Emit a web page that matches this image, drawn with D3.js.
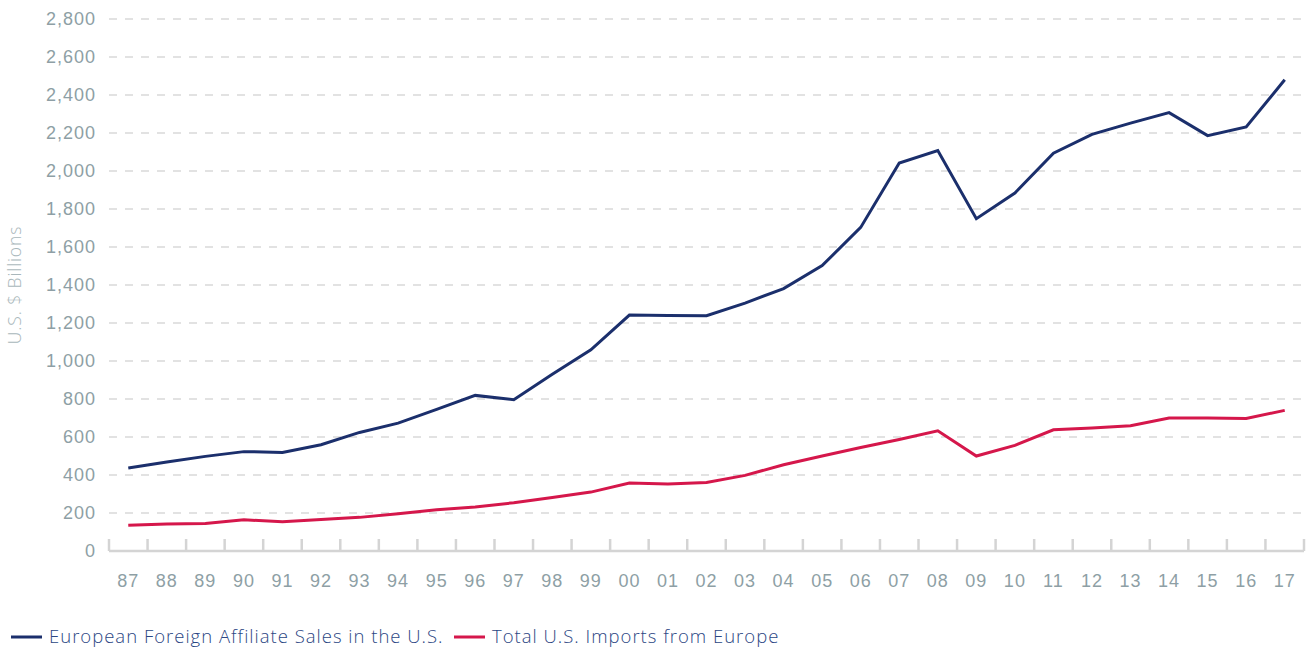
<!DOCTYPE html>
<html>
<head>
<meta charset="utf-8">
<script src="https://cdn.jsdelivr.net/npm/d3@7"></script>
<style>
  body { margin: 0; background: #fff; }
  svg { display: block; font-family: 'Open Sans', Lato, sans-serif; }
  .tick-label { fill: #8e9fa5; font-size: 18px; font-weight: 300; letter-spacing: 1px; }
  .grid line { stroke: #d9d9d9; stroke-width: 1.5; stroke-dasharray: 8,8; }
  .legend-text { fill: #2b4683; font-size: 18.5px; font-weight: 300; letter-spacing: 1px; }
</style>
</head>
<body>
<svg id="chart" width="1308" height="649"></svg>
<script>
// years on the x axis
const years = ['87', '88', '89', '90', '91', '92', '93', '94', '95', '96', '97', '98', '99', '00', '01',
  '02', '03', '04', '05', '06', '07', '08', '09', '10', '11', '12', '13', '14', '15', '16', '17']

// European Foreign Affiliate Sales in the U.S. (US$ bn)
const affiliateSales = [437, 468, 498, 523, 519, 559, 624, 673, 745, 819, 796, 930, 1059, 1242, 1240,
  1238, 1305, 1381, 1502, 1703, 2042, 2108, 1749, 1884, 2094, 2193, 2252, 2307, 2186, 2232, 2480]

// Total U.S. Imports from Europe (US$ bn)
const importsEurope = [135, 142, 145, 164, 154, 166, 177, 196, 217, 232, 254, 281, 310, 358, 352,
  361, 398, 454, 500, 545, 587, 633, 500, 556, 638, 647, 659, 700, 700, 698, 740]

const yTicks = [0, 200, 400, 600, 800, 1000, 1200, 1400, 1600, 1800, 2000, 2200, 2400, 2600, 2800]

const series = [
  { name: 'European Foreign Affiliate Sales in the U.S.', values: affiliateSales, color: '#1b2f6c' },
  { name: 'Total U.S. Imports from Europe', values: importsEurope, color: '#d5174b' }
]

const svg = d3.select('#chart')
const margin = { top: 19, right: 4, bottom: 98, left: 109 }
const width = 1308 - margin.left - margin.right
const height = 649 - margin.top - margin.bottom

const g = svg.append('g').attr('transform', `translate(${margin.left},${margin.top})`)

const xScale = d3.scaleBand().domain(years).range([0, width])
const yScale = d3.scaleLinear().domain([0, 2800]).range([height, 0])

// dashed grid
g.append('g')
  .attr('class', 'grid')
  .selectAll('line')
  .data(yTicks.filter(d => d > 0))
  .join('line')
  .attr('x1', 0)
  .attr('x2', width)
  .attr('y1', d => yScale(d))
  .attr('y2', d => yScale(d))

// y axis labels
const yAxis = g.append('g')
  .call(d3.axisLeft(yScale).tickValues(yTicks).tickSize(0).tickPadding(13).tickFormat(d3.format(',')))
yAxis.select('.domain').remove()
yAxis.selectAll('text').attr('class', 'tick-label').attr('fill', null).attr('font-size', null)
  .attr('font-family', null)

// x axis line + tick marks between years
const xAxis = g.append('g').attr('transform', `translate(0,${height})`)
xAxis.append('line')
  .attr('x1', 0).attr('x2', width)
  .attr('stroke', '#d4d4d4').attr('stroke-width', 2.5)
xAxis.selectAll('.year-tick')
  .data(years.map(y => xScale(y)).concat([width]))
  .join('line')
  .attr('class', 'year-tick')
  .attr('x1', d => d).attr('x2', d => d)
  .attr('y1', 0).attr('y2', -12)
  .attr('stroke', '#d4d4d4').attr('stroke-width', 2.5)

const xLabels = g.append('g').attr('transform', `translate(0,${height})`)
  .call(d3.axisBottom(xScale).tickSize(0).tickPadding(23))
xLabels.select('.domain').remove()
xLabels.selectAll('text').attr('class', 'tick-label').attr('fill', null).attr('font-size', null)
  .attr('font-family', null)

// y axis title
svg.append('text')
  .attr('transform', `translate(21,${margin.top + yScale(1400)}) rotate(-90)`)
  .attr('text-anchor', 'middle')
  .attr('fill', '#a9b7bb')
  .attr('font-size', 17.5)
  .attr('font-weight', 300)
  .attr('letter-spacing', '0.9px')
  .text('U.S. $ Billions')

// lines
const line = d3.line()
  .x((d, i) => xScale(years[i]) + xScale.bandwidth() / 2)
  .y(d => yScale(d))

g.selectAll('.series-line')
  .data(series)
  .join('path')
  .attr('class', 'series-line')
  .attr('fill', 'none')
  .attr('stroke', d => d.color)
  .attr('stroke-width', 3)
  .attr('stroke-linejoin', 'miter')
  .attr('d', d => line(d.values))

// legend
const legend = svg.append('g').attr('transform', 'translate(11,637)')
const legendX = [0, 443]
series.forEach((s, i) => {
  const item = legend.append('g').attr('transform', `translate(${legendX[i]},0)`)
  item.append('line')
    .attr('x1', 0).attr('x2', 31)
    .attr('stroke', s.color).attr('stroke-width', 3)
  item.append('text')
    .attr('class', 'legend-text')
    .attr('x', 38)
    .attr('dy', '0.35em')
    .text(s.name)
})
</script>
</body>
</html>
